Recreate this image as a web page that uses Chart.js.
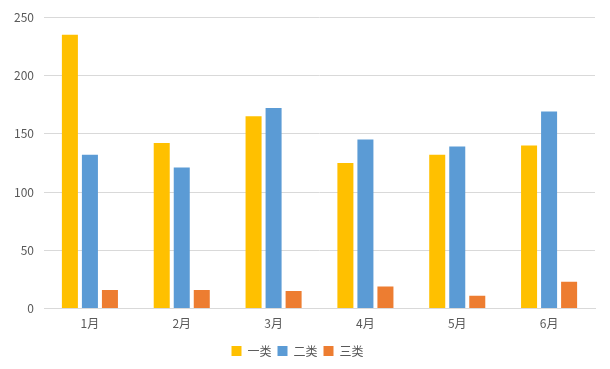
<!DOCTYPE html>
<html><head><meta charset="utf-8">
<script src="https://cdn.jsdelivr.net/npm/chart.js@4/dist/chart.umd.min.js"></script>
<style>html,body{margin:0;padding:0;background:#fff}#w{width:610px;height:369px}</style>
</head><body><div id="w"><canvas id="c"></canvas></div>
<script>
const categories = ['1月','2月','3月','4月','5月','6月'];
const seriesNames = ['一类','二类','三类'];
const s1 = [235, 142, 165, 125, 132, 140];
const s2 = [132, 121, 172, 145, 139, 169];
const s3 = [16, 16, 15, 19, 11, 23];
const yTicks = [0, 50, 100, 150, 200, 250];
const colors = ['#FFC000', '#5B9BD5', '#ED7D31'];
const font = {family: '"Noto Sans CJK SC", "DejaVu Sans", sans-serif', size: 12};
new Chart(document.getElementById('c'), {
  type: 'bar',
  data: {
    labels: categories,
    datasets: [s1, s2, s3].map((d, i) => ({
      label: seriesNames[i], data: d, backgroundColor: colors[i],
      categoryPercentage: 0.654, barPercentage: 0.8
    }))
  },
  options: {
    responsive: true, maintainAspectRatio: false, animation: false,
    layout: {padding: {top: 9, right: 15, left: 0, bottom: 2}},
    plugins: {
      tooltip: {enabled: false},
      legend: {position: 'bottom', labels: {boxWidth: 10, boxHeight: 10, color: '#595959', font, padding: 6}}
    },
    scales: {
      x: {
        grid: {display: false, drawTicks: false},
        border: {color: '#D9D9D9'},
        ticks: {color: '#595959', font, padding: 8}
      },
      y: {
        min: 0, max: 250,
        afterBuildTicks: s => { s.ticks = yTicks.map(v => ({value: v})); },
        afterFit: s => { s.width = 44; },
        grid: {color: '#D9D9D9', drawTicks: false},
        border: {display: false},
        ticks: {color: '#595959', font, padding: 10}
      }
    }
  }
});
</script></body></html>
